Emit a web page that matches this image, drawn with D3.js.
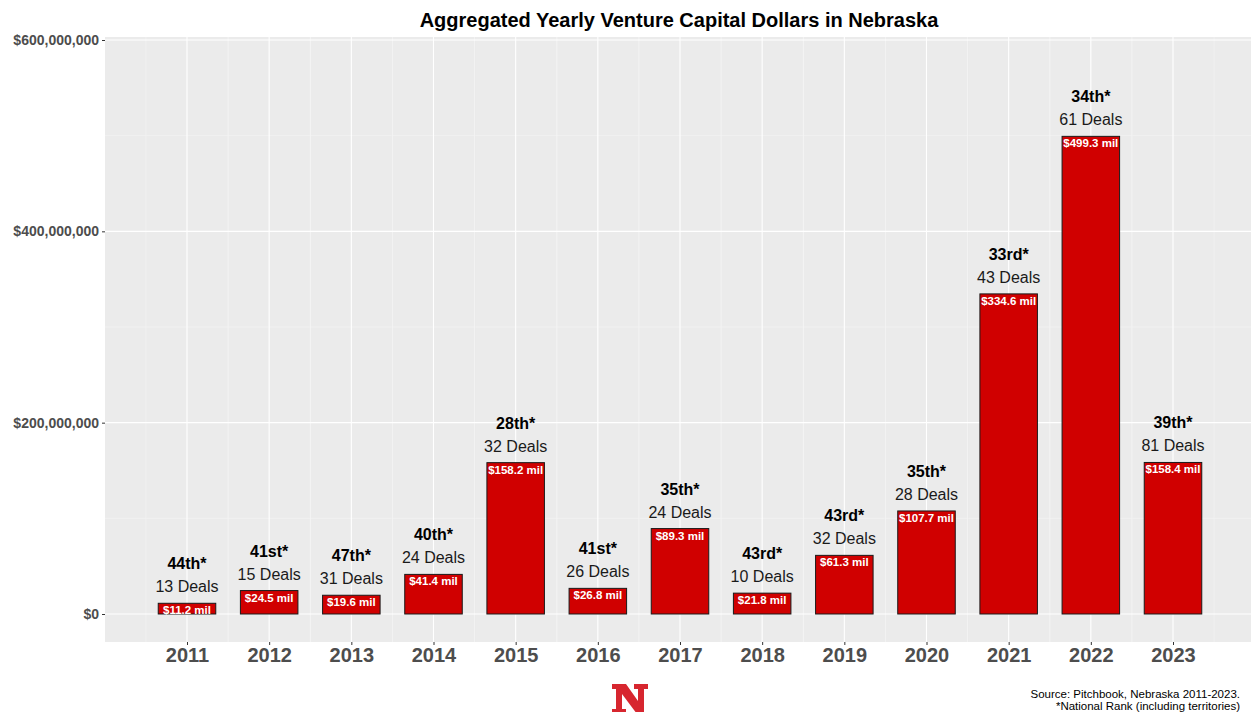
<!DOCTYPE html>
<html><head><meta charset="utf-8">
<script src="https://cdn.jsdelivr.net/npm/d3@7"></script>
<style>body{margin:0;background:#fff}svg{display:block;font-family:"Liberation Sans",Arial,sans-serif}</style>
</head><body><svg id="c" width="1251" height="712"></svg>
<script>
const years = ["2011","2012","2013","2014","2015","2016","2017","2018","2019","2020","2021","2022","2023"];
const valuesMil = [11.2,24.5,19.6,41.4,158.2,26.8,89.3,21.8,61.3,107.7,334.6,499.3,158.4];
const deals = [13,15,31,24,32,26,24,10,32,28,43,61,81];
const ranks = ["44th*","41st*","47th*","40th*","28th*","41st*","35th*","43rd*","43rd*","35th*","33rd*","34th*","39th*"];
const yTicks = [0,200e6,400e6,600e6];
const yMinor = [100e6,300e6,500e6];

const svg = d3.select("#c");
const panel = {left:105, right:1253, top:37, bottom:642};
const x = d3.scalePoint().domain(years).range([187,1173]);
const step = x.step();
const y = d3.scaleLinear().domain([0,600e6]).range([614,40]);

svg.append("rect").attr("x",panel.left).attr("y",panel.top)
  .attr("width",panel.right-panel.left).attr("height",panel.bottom-panel.top).attr("fill","#ebebeb");

// minor gridlines
const g = svg.append("g");
yMinor.forEach(v=>g.append("line").attr("x1",panel.left).attr("x2",panel.right)
  .attr("y1",y(v)).attr("y2",y(v)).attr("stroke","#f5f5f5").attr("stroke-width",0.6));
years.forEach(yr=>{
  [-0.5,0.5].forEach(o=>{
    const xx = x(yr)+o*step;
    g.append("line").attr("x1",xx).attr("x2",xx).attr("y1",panel.top).attr("y2",panel.bottom)
      .attr("stroke","#f5f5f5").attr("stroke-width",0.6);
  });
});
yTicks.forEach(v=>g.append("line").attr("x1",panel.left).attr("x2",panel.right)
  .attr("y1",y(v)).attr("y2",y(v)).attr("stroke","#fff").attr("stroke-width",1.1));
years.forEach(yr=>g.append("line").attr("x1",x(yr)).attr("x2",x(yr))
  .attr("y1",panel.top).attr("y2",panel.bottom).attr("stroke","#fff").attr("stroke-width",1.1));

// axes
const yAxis = d3.axisLeft(y).tickValues(yTicks).tickSize(3).tickPadding(3)
  .tickFormat(d=>"$"+d3.format(",")(d));
const ya = svg.append("g").attr("transform",`translate(${panel.left},0)`).call(yAxis);
ya.select(".domain").remove();
ya.selectAll("line").attr("stroke","#333");
ya.selectAll("text").attr("font-size",14).attr("font-weight","bold").attr("fill","#4d4d4d")
  .attr("font-family","Liberation Sans, Arial, sans-serif");

const xAxis = d3.axisBottom(x).tickSize(3).tickPadding(3);
const xa = svg.append("g").attr("transform",`translate(0,${panel.bottom})`).call(xAxis);
xa.select(".domain").remove();
xa.selectAll("line").attr("stroke","#333");
xa.selectAll("text").attr("font-size",20).attr("font-weight","bold").attr("fill","#4d4d4d")
  .attr("font-family","Liberation Sans, Arial, sans-serif");

// bars
const bw = step*0.7;
const data = years.map((yr,i)=>({yr, v:valuesMil[i]*1e6, m:valuesMil[i], d:deals[i], r:ranks[i]}));
svg.append("g").selectAll("rect").data(data).join("rect")
  .attr("x",d=>x(d.yr)-bw/2).attr("y",d=>y(d.v)).attr("width",bw).attr("height",d=>y(0)-y(d.v))
  .attr("fill","#d00000").attr("stroke","#1a1a1a").attr("stroke-width",1);

const lab = svg.append("g").attr("text-anchor","middle");
lab.selectAll(".val").data(data).join("text").attr("class","val")
  .attr("x",d=>x(d.yr)).attr("y",d=>y(d.v)+11)
  .attr("font-size",11.5).attr("font-weight","bold").attr("fill","#fff")
  .text(d=>"$"+d.m.toFixed(1)+" mil");
lab.selectAll(".deal").data(data).join("text").attr("class","deal")
  .attr("x",d=>x(d.yr)).attr("y",d=>y(d.v)-11)
  .attr("font-size",16).attr("fill","#1a1a1a")
  .text(d=>d.d+" Deals");
lab.selectAll(".rank").data(data).join("text").attr("class","rank")
  .attr("x",d=>x(d.yr)).attr("y",d=>y(d.v)-34)
  .attr("font-size",16).attr("font-weight","bold").attr("fill","#000")
  .text(d=>d.r);

// title
svg.append("text").attr("x",(panel.left+panel.right)/2).attr("y",27).attr("text-anchor","middle")
  .attr("font-size",20).attr("font-weight","bold").attr("fill","#000")
  .text("Aggregated Yearly Venture Capital Dollars in Nebraska");

// logo (block N mark)
const nPts = [[0,0],[14,0],[26,17],[26,5],[22,5],[22,0],[36,0],[36,5],[32,5],[32,30],[25,30],[10,10],[10,25],[14,25],[14,30],[0,30],[0,25],[4,25],[4,5],[0,5]];
svg.append("path").attr("transform","translate(612,684)")
  .attr("d",d3.line()(nPts)+"Z").attr("fill","#d7262f");

// caption
const cap = svg.append("g").attr("text-anchor","end").attr("font-size",11.5).attr("fill","#000");
cap.append("text").attr("x",1240).attr("y",698).text("Source: Pitchbook, Nebraska 2011-2023.");
cap.append("text").attr("x",1240).attr("y",710).text("*National Rank (including territories)");
</script></body></html>
